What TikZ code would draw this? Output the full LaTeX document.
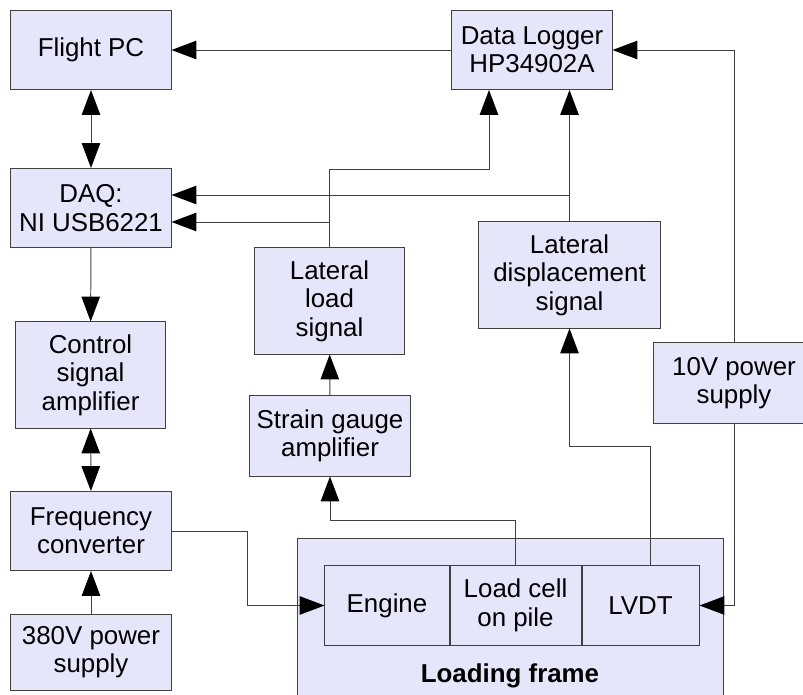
\documentclass[tikz,border=0pt]{standalone}
\usepackage{fontspec}
\setmainfont{Liberation Sans}
\usetikzlibrary{arrows.meta,positioning}
\definecolor{boxfill}{RGB}{230,230,250}
\definecolor{edgegray}{RGB}{64,64,64}

\begin{document}
\begin{tikzpicture}[x=0.025cm,y=-0.025cm,>={Triangle[length=0.62cm,width=0.46cm,color=black]},line width=0.7pt]
\tikzstyle{block}=[draw=edgegray,fill=boxfill,align=center,inner sep=0pt,font=\fontsize{18.4}{20.2}\selectfont,minimum width=4cm,minimum height=1.975cm]
\tikzstyle{wire}=[draw=edgegray]

\useasboundingbox (0,0) rectangle (803,695);
\clip (0,0) rectangle (803,695);

\node[block] (fpc) at (91,50) {Flight PC};
\node[block] (dlog) at (532,50) {Data Logger\\HP34902A};
\node[block] (daq) at (91,208) {DAQ:\\NI USB6221};
\node[block,minimum width=3.725cm,minimum height=2.65cm] (csa) at (90.5,375) {Control\\signal\\amplifier};
\node[block] (fconv) at (91,531) {Frequency\\converter};
\node[block,minimum height=1.9cm] (p380) at (91,652) {380V power\\supply};
\node[block,minimum width=3.725cm,minimum height=2.65cm] (lls) at (329.5,301) {Lateral\\load\\signal};
\node[block,minimum height=2cm] (sga) at (330,436) {Strain gauge\\amplifier};
\node[block,minimum width=4.525cm,minimum height=2.65cm] (lds) at (569.5,275) {Lateral\\displacement\\signal};
\node[block,minimum height=2cm] (p10) at (734,383) {10V power\\supply};
\node[block,minimum width=10.625cm,minimum height=4.525cm] (frame) at (510.5,629.5) {};
\node[font=\fontsize{18.4}{20.2}\selectfont\bfseries] (framelbl) at (510,676) {Loading frame};
\node[block,minimum width=3.1cm] (engine) at (387,605.5) {Engine};
\node[block,minimum width=3.275cm,right=0pt of engine] (lcell) {Load cell\\on pile};
\node[block,minimum width=2.925cm,right=0pt of lcell] (lvdt) {LVDT};

\coordinate (rowa) at (0,169);
\coordinate (rowb) at (0,195);
\coordinate (rowc) at (0,222);

\draw[wire,->] (dlog.west) -- (fpc.east);
\draw[wire,<->] (fpc) -- (daq);
\draw[wire,->] (daq) -- (csa);
\draw[wire,<->] (csa) -- (fconv);
\draw[wire,->] (p380) -- (fconv);
\draw[wire,->] (fconv.east) -- ++(76,0) |- (engine.west);
\draw[wire,->] (sga) -- (lls);
\draw[wire,->] (lcell.north) -- ++(0,-45) -| (sga.south);
\draw[wire,->] ([xshift=0.26cm]lvdt.north) -- ++(0,-119) -| (lds.south);
\draw[wire,->] (p10.south) |- (lvdt.east);
\draw[wire,->] (p10.north) |- (dlog.east);
\draw[wire,->] (lls.north) -- (lls.north |- rowa) -| ([xshift=-1.075cm]dlog.south);
\draw[wire,->] (lls.north |- rowc) -- (daq.east |- rowc);
\draw[wire,->] (lds.north) -- (lds.north |- dlog.south);
\draw[wire,->] (lds.north |- rowb) -- (daq.east |- rowb);
\end{tikzpicture}
\end{document}
